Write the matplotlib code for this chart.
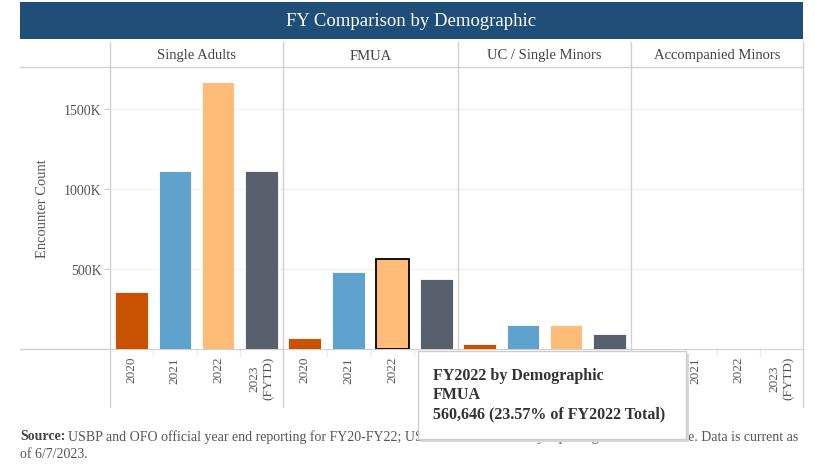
import numpy as np
import matplotlib.pyplot as plt
from matplotlib.patches import Rectangle
from matplotlib.lines import Line2D
from matplotlib.ticker import FuncFormatter

plt.rcParams['font.family'] = ['Liberation Serif', 'DejaVu Serif']

# data
demographics = ['Single Adults', 'FMUA', 'UC / Single Minors', 'Accompanied Minors']
years = ['2020', '2021', '2022', '2023\n(FYTD)']
single_adults = [354000, 1114000, 1671000, 1112000]
fmua = [70000, 481000, 560646, 437000]
uc_minors = [31000, 150000, 152000, 94000]
accompanied = [600, 900, 1200, 800]
values = [single_adults, fmua, uc_minors, accompanied]
colors = ['#c85200', '#5fa2ce', '#ffbc79', '#57606c']

W, H = 815, 477
fig = plt.figure(figsize=(W / 100, H / 100), dpi=100)


def fx(px):
    return px / W


def fy(py):
    return 1 - py / H


grid_col = '#d0d0d0'
text_col = '#555555'

# title bar
fig.patches.append(Rectangle((fx(20), fy(40)), fx(783), 37 / H, transform=fig.transFigure,
                             facecolor='#1f4e79', edgecolor='none', zorder=0))
fig.text(fx(411), fy(22), 'FY Comparison by Demographic', color='white', fontsize=13.5,
         ha='center', va='center')

# panel edges in pixels
edges = [110, 283, 458, 631, 803]
top, base = 68, 350
ymax = (base - top) / 80 * 500000

axes = []
for i, name in enumerate(demographics):
    ax = fig.add_axes([fx(edges[i]), fy(base), fx(edges[i + 1] - edges[i]), (base - top) / H])
    x = np.arange(4)
    bars = ax.bar(x, values[i], width=0.75, color=colors, edgecolor='white', linewidth=0.6, zorder=3)
    if name == 'FMUA':
        bars[2].set_edgecolor('black')
        bars[2].set_linewidth(1.3)
    ax.set_xlim(-0.5, 3.5)
    ax.set_ylim(0, ymax)
    ax.set_yticks([500000, 1000000, 1500000])
    ax.yaxis.grid(True, color='#f0f0f0', linewidth=1, zorder=0)
    for s in ['top', 'right', 'left']:
        ax.spines[s].set_visible(False)
    ax.spines['bottom'].set_color(grid_col)
    ax.set_xticks(x)
    ax.set_xticklabels(years, rotation=90, fontsize=9.5, color=text_col, va='top', ha='center')
    ax.set_xticks([0.5, 1.5, 2.5], minor=True)
    ax.tick_params(axis='x', which='major', length=0, pad=5)
    ax.tick_params(axis='x', which='minor', length=6, color='#eeeeee', width=1)
    if i == 0:
        ax.yaxis.set_major_formatter(FuncFormatter(lambda v, p: f'{int(v / 1000)}K'))
        ax.tick_params(axis='y', length=4, color=grid_col, labelsize=10, labelcolor=text_col, pad=2)
        ax.set_ylabel('Encounter Count', fontsize=10.5, color=text_col, labelpad=11)
    else:
        ax.tick_params(axis='y', length=0, labelleft=False)
    fig.text(fx((edges[i] + edges[i + 1]) / 2), fy(56), name, ha='center', va='center',
             fontsize=10.5, color='#444444')
    axes.append(ax)

# frame lines
for e in edges:
    fig.add_artist(Line2D([fx(e), fx(e)], [fy(43), fy(408)], color=grid_col, linewidth=1))
fig.add_artist(Line2D([fx(20), fx(803)], [fy(68), fy(68)], color=grid_col, linewidth=1))
fig.add_artist(Line2D([fx(20), fx(110)], [fy(350), fy(350)], color=grid_col, linewidth=1))

# source note
src = fig.text(fx(20), fy(437), 'Source:', fontsize=10, fontweight='bold', color='#444444', va='center')
fig.canvas.draw()
bb = src.get_window_extent()
fig.text(bb.x1 / W + fx(3), fy(437),
         'USBP and OFO official year end reporting for FY20-FY22; USBP and OFO monthly reporting for FY23 to date. Data is current as',
         fontsize=10, color=text_col, va='center')
fig.text(fx(20), fy(455), 'of 6/7/2023.', fontsize=10, color=text_col, va='center')

# tooltip
fig.patches.append(Rectangle((fx(421), fy(443)), fx(268), 88 / H, transform=fig.transFigure,
                             facecolor='#d8d8d8', edgecolor='none', zorder=9))
fig.patches.append(Rectangle((fx(418), fy(440)), fx(268), 88 / H, transform=fig.transFigure,
                             facecolor='white', edgecolor='#cccccc', linewidth=1, zorder=10))
tip = ['FY2022 by Demographic', 'FMUA', '560,646 (23.57% of FY2022 Total)']
for k, line in enumerate(tip):
    fig.text(fx(433), fy(376 + k * 19), line, fontsize=11.5, fontweight='bold', color='#333333',
             va='center', zorder=11)

fig.savefig('out.png', dpi=100)
